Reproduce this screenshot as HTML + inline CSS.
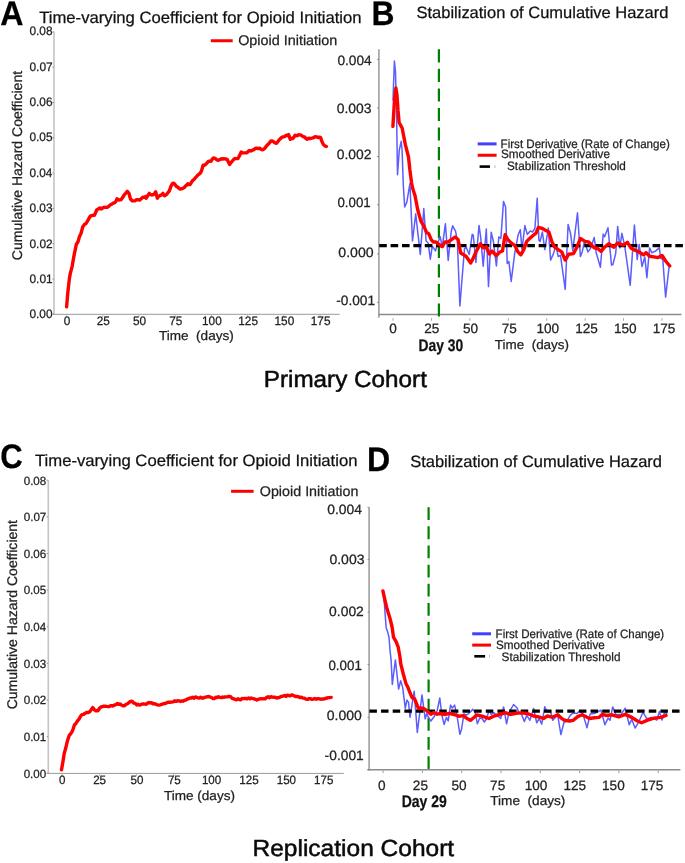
<!DOCTYPE html>
<html><head><meta charset="utf-8"><title>Figure</title>
<style>
html,body{margin:0;padding:0;background:#fff;}
body{width:685px;height:863px;overflow:hidden;}
svg{display:block;will-change:transform;text-rendering:geometricPrecision;font-family:"Liberation Sans", sans-serif;}
</style></head>
<body>
<svg width="685" height="863" viewBox="0 0 685 863">
<rect width="685" height="863" fill="#fff"/>
<text x="0.35" y="25.00" font-size="34" fill="#000" font-weight="bold" textLength="23.25" lengthAdjust="spacingAndGlyphs" stroke="#000" stroke-width="0.25">A</text>
<text x="371.42" y="24.70" font-size="34" fill="#000" font-weight="bold" textLength="22.97" lengthAdjust="spacingAndGlyphs" stroke="#000" stroke-width="0.25">B</text>
<text x="0.28" y="468.40" font-size="34" fill="#000" font-weight="bold" textLength="22.42" lengthAdjust="spacingAndGlyphs" stroke="#000" stroke-width="0.25">C</text>
<text x="367.10" y="470.70" font-size="34" fill="#000" font-weight="bold" textLength="23.20" lengthAdjust="spacingAndGlyphs" stroke="#000" stroke-width="0.25">D</text>
<text x="39.18" y="23.40" font-size="16.4" fill="#111" textLength="322.45" lengthAdjust="spacingAndGlyphs" stroke="#111" stroke-width="0.25">Time-varying Coefficient for Opioid Initiation</text>
<text x="416.50" y="18.05" font-size="16.4" fill="#111" textLength="251.91" lengthAdjust="spacingAndGlyphs" stroke="#111" stroke-width="0.25">Stabilization of Cumulative Hazard</text>
<text x="34.98" y="466.00" font-size="16.4" fill="#111" textLength="322.55" lengthAdjust="spacingAndGlyphs" stroke="#111" stroke-width="0.25">Time-varying Coefficient for Opioid Initiation</text>
<text x="410.20" y="467.10" font-size="16.4" fill="#111" textLength="251.81" lengthAdjust="spacingAndGlyphs" stroke="#111" stroke-width="0.25">Stabilization of Cumulative Hazard</text>
<line x1="54" y1="31.6" x2="54" y2="314.8" stroke="#c4c4c4" stroke-width="1.6"/>
<line x1="53" y1="314.3" x2="339.7" y2="314.3" stroke="#9a9a9a" stroke-width="1"/>
<line x1="52.3" y1="314.3" x2="54" y2="314.3" stroke="#888" stroke-width="0.8"/>
<text x="29.49" y="318.20" font-size="12.3" fill="#222" textLength="23.02" lengthAdjust="spacingAndGlyphs" stroke="#222" stroke-width="0.25">0.00</text>
<line x1="52.3" y1="279.0" x2="54" y2="279.0" stroke="#888" stroke-width="0.8"/>
<text x="29.49" y="282.85" font-size="12.3" fill="#222" textLength="23.15" lengthAdjust="spacingAndGlyphs" stroke="#222" stroke-width="0.25">0.01</text>
<line x1="52.3" y1="243.70000000000002" x2="54" y2="243.70000000000002" stroke="#888" stroke-width="0.8"/>
<text x="29.49" y="247.50" font-size="12.3" fill="#222" textLength="23.16" lengthAdjust="spacingAndGlyphs" stroke="#222" stroke-width="0.25">0.02</text>
<line x1="52.3" y1="208.40000000000003" x2="54" y2="208.40000000000003" stroke="#888" stroke-width="0.8"/>
<text x="29.49" y="212.15" font-size="12.3" fill="#222" textLength="23.08" lengthAdjust="spacingAndGlyphs" stroke="#222" stroke-width="0.25">0.03</text>
<line x1="52.3" y1="173.10000000000002" x2="54" y2="173.10000000000002" stroke="#888" stroke-width="0.8"/>
<text x="29.49" y="176.80" font-size="12.3" fill="#222" textLength="22.90" lengthAdjust="spacingAndGlyphs" stroke="#222" stroke-width="0.25">0.04</text>
<line x1="52.3" y1="137.8" x2="54" y2="137.8" stroke="#888" stroke-width="0.8"/>
<text x="29.49" y="141.45" font-size="12.3" fill="#222" textLength="23.06" lengthAdjust="spacingAndGlyphs" stroke="#222" stroke-width="0.25">0.05</text>
<line x1="52.3" y1="102.50000000000003" x2="54" y2="102.50000000000003" stroke="#888" stroke-width="0.8"/>
<text x="29.49" y="106.10" font-size="12.3" fill="#222" textLength="23.08" lengthAdjust="spacingAndGlyphs" stroke="#222" stroke-width="0.25">0.06</text>
<line x1="52.3" y1="67.20000000000005" x2="54" y2="67.20000000000005" stroke="#888" stroke-width="0.8"/>
<text x="29.49" y="70.75" font-size="12.3" fill="#222" textLength="23.16" lengthAdjust="spacingAndGlyphs" stroke="#222" stroke-width="0.25">0.07</text>
<line x1="52.3" y1="31.900000000000034" x2="54" y2="31.900000000000034" stroke="#888" stroke-width="0.8"/>
<text x="29.49" y="35.40" font-size="12.3" fill="#222" textLength="23.08" lengthAdjust="spacingAndGlyphs" stroke="#222" stroke-width="0.25">0.08</text>
<line x1="66.6" y1="315" x2="66.6" y2="317" stroke="#aaa" stroke-width="0.8"/>
<text x="63.87" y="324.80" font-size="12.3" fill="#222" textLength="6.57" lengthAdjust="spacingAndGlyphs" stroke="#222" stroke-width="0.25">0</text>
<line x1="102.8" y1="315" x2="102.8" y2="317" stroke="#aaa" stroke-width="0.8"/>
<text x="96.77" y="324.80" font-size="12.3" fill="#222" textLength="13.13" lengthAdjust="spacingAndGlyphs" stroke="#222" stroke-width="0.25">25</text>
<line x1="139.0" y1="315" x2="139.0" y2="317" stroke="#aaa" stroke-width="0.8"/>
<text x="133.06" y="324.80" font-size="12.3" fill="#222" textLength="13.13" lengthAdjust="spacingAndGlyphs" stroke="#222" stroke-width="0.25">50</text>
<line x1="175.2" y1="315" x2="175.2" y2="317" stroke="#aaa" stroke-width="0.8"/>
<text x="169.25" y="324.80" font-size="12.3" fill="#222" textLength="13.13" lengthAdjust="spacingAndGlyphs" stroke="#222" stroke-width="0.25">75</text>
<line x1="211.4" y1="315" x2="211.4" y2="317" stroke="#aaa" stroke-width="0.8"/>
<text x="202.04" y="324.80" font-size="12.3" fill="#222" textLength="19.70" lengthAdjust="spacingAndGlyphs" stroke="#222" stroke-width="0.25">100</text>
<line x1="247.6" y1="315" x2="247.6" y2="317" stroke="#aaa" stroke-width="0.8"/>
<text x="238.30" y="324.80" font-size="12.3" fill="#222" textLength="19.70" lengthAdjust="spacingAndGlyphs" stroke="#222" stroke-width="0.25">125</text>
<line x1="283.8" y1="315" x2="283.8" y2="317" stroke="#aaa" stroke-width="0.8"/>
<text x="274.52" y="324.80" font-size="12.3" fill="#222" textLength="19.70" lengthAdjust="spacingAndGlyphs" stroke="#222" stroke-width="0.25">150</text>
<line x1="320.0" y1="315" x2="320.0" y2="317" stroke="#aaa" stroke-width="0.8"/>
<text x="310.78" y="324.80" font-size="12.3" fill="#222" textLength="19.70" lengthAdjust="spacingAndGlyphs" stroke="#222" stroke-width="0.25">175</text>
<text x="158.95" y="340.00" font-size="13" fill="#222" textLength="74.84" lengthAdjust="spacingAndGlyphs" stroke="#222" stroke-width="0.25">Time&#160; (days)</text>
<text x="70.24" y="0.00" font-size="14" fill="#222" textLength="189.31" lengthAdjust="spacingAndGlyphs" stroke="#222" stroke-width="0.25" transform="translate(0,330.4) rotate(-90) translate(0,22.3)">Cumulative Hazard Coefficient</text>
<line x1="210.8" y1="40.75" x2="232.7" y2="40.75" stroke="#ff0000" stroke-width="3"/>
<text x="238.17" y="44.90" font-size="14" fill="#222" textLength="99.11" lengthAdjust="spacingAndGlyphs" stroke="#222" stroke-width="0.25">Opioid Initiation</text>
<polyline points="66.6,306.8 67.8,292.7 69.4,278.6 70.2,273.9 72.2,266.1 73.3,259.5 74.4,253.6 76.4,244.2 78.0,241.8 79.6,236.3 81.1,233.2 82.7,227.0 84.3,224.6 85.8,223.8 87.0,221.9 88.2,219.9 89.3,217.8 90.5,216.0 91.7,215.7 92.9,215.2 94.4,215.2 95.6,212.6 96.8,209.7 98.3,209.0 99.9,207.9 101.5,209.0 102.8,207.9 104.1,207.3 105.4,207.4 107.0,207.4 108.5,206.6 110.0,205.1 111.6,204.3 113.2,203.2 114.8,202.7 115.9,201.4 117.1,198.8 118.7,200.0 119.8,199.8 121.0,199.6 122.6,197.7 124.2,194.9 125.8,193.1 127.3,191.3 128.9,193.3 130.4,198.8 132.0,200.7 133.6,200.9 135.1,200.7 136.3,199.7 137.5,199.6 139.6,200.1 141.2,198.8 142.8,197.1 144.1,197.3 145.3,196.6 146.1,198.2 147.7,195.8 149.3,193.4 150.5,194.5 151.7,195.0 152.9,194.8 154.1,194.2 155.7,191.8 157.3,198.2 158.5,196.4 159.7,195.8 161.3,194.9 162.9,193.4 164.5,195.8 165.7,195.1 166.9,194.2 168.1,192.3 169.3,191.0 171.0,186.1 172.6,183.4 173.8,183.3 175.0,184.5 176.2,186.2 177.4,186.9 178.6,187.9 179.8,189.0 181.4,188.9 183.0,188.2 184.2,187.6 185.4,186.1 186.6,185.2 187.8,183.7 189.0,184.6 190.2,184.5 191.4,182.4 192.6,180.5 194.2,179.3 195.8,177.3 197.4,175.6 199.1,174.1 200.3,173.1 201.5,170.9 203.1,165.3 204.3,165.4 205.5,164.5 207.1,162.8 208.3,161.5 209.5,161.2 211.1,161.2 212.3,159.1 213.5,158.0 215.1,158.4 216.7,159.6 217.9,160.4 219.1,160.0 220.3,159.3 221.5,158.8 222.7,159.0 223.9,158.8 225.6,158.9 227.2,159.6 228.4,162.1 229.6,164.5 231.0,162.6 232.4,161.0 233.6,159.6 234.8,158.5 236.4,158.6 238.0,158.5 239.6,155.4 241.2,152.1 242.6,152.9 243.9,152.9 245.3,152.9 246.6,152.7 248.0,151.8 249.3,150.5 250.9,151.0 252.5,150.2 253.8,149.7 255.2,148.4 256.5,148.1 258.1,148.6 259.7,148.1 261.3,149.5 262.9,149.7 264.5,148.6 266.1,146.5 267.7,144.7 269.4,143.0 271.0,140.9 272.2,140.9 273.4,141.7 275.0,142.9 276.6,143.3 277.8,141.8 279.0,140.1 280.3,138.8 281.7,137.4 283.0,136.9 284.6,136.6 286.2,135.3 287.4,135.5 288.6,134.5 290.2,139.3 291.4,138.4 292.6,138.5 293.8,137.3 295.0,135.3 296.2,135.4 297.4,135.7 298.6,134.8 299.9,134.9 301.1,135.2 302.3,136.1 303.5,136.8 304.7,136.9 305.9,138.6 307.1,139.3 308.7,138.3 310.3,138.5 311.9,138.2 313.5,137.7 315.1,136.7 316.7,136.9 318.0,137.5 319.4,137.2 320.7,137.7 321.9,141.4 323.1,144.1 324.8,145.9 326.4,146.5" fill="none" stroke="#ff0000" stroke-width="3.4" stroke-linejoin="round" stroke-linecap="round"/>
<line x1="48.3" y1="480.2" x2="48.3" y2="773.6" stroke="#c4c4c4" stroke-width="1.6"/>
<line x1="47.3" y1="773.4" x2="343.8" y2="773.4" stroke="#9a9a9a" stroke-width="1"/>
<line x1="46.6" y1="773.3" x2="48.3" y2="773.3" stroke="#888" stroke-width="0.8"/>
<text x="23.70" y="777.55" font-size="11.9" fill="#222" textLength="22.50" lengthAdjust="spacingAndGlyphs" stroke="#222" stroke-width="0.25">0.00</text>
<line x1="46.6" y1="736.66" x2="48.3" y2="736.66" stroke="#888" stroke-width="0.8"/>
<text x="23.70" y="740.92" font-size="11.9" fill="#222" textLength="22.62" lengthAdjust="spacingAndGlyphs" stroke="#222" stroke-width="0.25">0.01</text>
<line x1="46.6" y1="700.02" x2="48.3" y2="700.02" stroke="#888" stroke-width="0.8"/>
<text x="23.70" y="704.30" font-size="11.9" fill="#222" textLength="22.64" lengthAdjust="spacingAndGlyphs" stroke="#222" stroke-width="0.25">0.02</text>
<line x1="46.6" y1="663.38" x2="48.3" y2="663.38" stroke="#888" stroke-width="0.8"/>
<text x="23.70" y="667.67" font-size="11.9" fill="#222" textLength="22.56" lengthAdjust="spacingAndGlyphs" stroke="#222" stroke-width="0.25">0.03</text>
<line x1="46.6" y1="626.74" x2="48.3" y2="626.74" stroke="#888" stroke-width="0.8"/>
<text x="23.70" y="631.05" font-size="11.9" fill="#222" textLength="22.39" lengthAdjust="spacingAndGlyphs" stroke="#222" stroke-width="0.25">0.04</text>
<line x1="46.6" y1="590.0999999999999" x2="48.3" y2="590.0999999999999" stroke="#888" stroke-width="0.8"/>
<text x="23.70" y="594.42" font-size="11.9" fill="#222" textLength="22.54" lengthAdjust="spacingAndGlyphs" stroke="#222" stroke-width="0.25">0.05</text>
<line x1="46.6" y1="553.4599999999999" x2="48.3" y2="553.4599999999999" stroke="#888" stroke-width="0.8"/>
<text x="23.70" y="557.80" font-size="11.9" fill="#222" textLength="22.56" lengthAdjust="spacingAndGlyphs" stroke="#222" stroke-width="0.25">0.06</text>
<line x1="46.6" y1="516.8199999999999" x2="48.3" y2="516.8199999999999" stroke="#888" stroke-width="0.8"/>
<text x="23.70" y="521.17" font-size="11.9" fill="#222" textLength="22.64" lengthAdjust="spacingAndGlyphs" stroke="#222" stroke-width="0.25">0.07</text>
<line x1="46.6" y1="480.17999999999995" x2="48.3" y2="480.17999999999995" stroke="#888" stroke-width="0.8"/>
<text x="23.70" y="484.55" font-size="11.9" fill="#222" textLength="22.56" lengthAdjust="spacingAndGlyphs" stroke="#222" stroke-width="0.25">0.08</text>
<line x1="62.1" y1="774" x2="62.1" y2="776" stroke="#aaa" stroke-width="0.8"/>
<text x="59.02" y="784.40" font-size="12.1" fill="#222" textLength="6.46" lengthAdjust="spacingAndGlyphs" stroke="#222" stroke-width="0.25">0</text>
<line x1="99.36" y1="774" x2="99.36" y2="776" stroke="#aaa" stroke-width="0.8"/>
<text x="93.13" y="784.40" font-size="12.1" fill="#222" textLength="12.92" lengthAdjust="spacingAndGlyphs" stroke="#222" stroke-width="0.25">25</text>
<line x1="136.62" y1="774" x2="136.62" y2="776" stroke="#aaa" stroke-width="0.8"/>
<text x="130.56" y="784.40" font-size="12.1" fill="#222" textLength="12.92" lengthAdjust="spacingAndGlyphs" stroke="#222" stroke-width="0.25">50</text>
<line x1="173.88" y1="774" x2="173.88" y2="776" stroke="#aaa" stroke-width="0.8"/>
<text x="167.91" y="784.40" font-size="12.1" fill="#222" textLength="12.92" lengthAdjust="spacingAndGlyphs" stroke="#222" stroke-width="0.25">75</text>
<line x1="211.14" y1="774" x2="211.14" y2="776" stroke="#aaa" stroke-width="0.8"/>
<text x="201.90" y="784.40" font-size="12.1" fill="#222" textLength="19.38" lengthAdjust="spacingAndGlyphs" stroke="#222" stroke-width="0.25">100</text>
<line x1="248.39999999999998" y1="774" x2="248.39999999999998" y2="776" stroke="#aaa" stroke-width="0.8"/>
<text x="239.31" y="784.40" font-size="12.1" fill="#222" textLength="19.38" lengthAdjust="spacingAndGlyphs" stroke="#222" stroke-width="0.25">125</text>
<line x1="285.66" y1="774" x2="285.66" y2="776" stroke="#aaa" stroke-width="0.8"/>
<text x="276.68" y="784.40" font-size="12.1" fill="#222" textLength="19.38" lengthAdjust="spacingAndGlyphs" stroke="#222" stroke-width="0.25">150</text>
<line x1="322.92" y1="774" x2="322.92" y2="776" stroke="#aaa" stroke-width="0.8"/>
<text x="314.09" y="784.40" font-size="12.1" fill="#222" textLength="19.38" lengthAdjust="spacingAndGlyphs" stroke="#222" stroke-width="0.25">175</text>
<text x="163.95" y="800.00" font-size="13" fill="#222" textLength="71.04" lengthAdjust="spacingAndGlyphs" stroke="#222" stroke-width="0.25">Time (days)</text>
<text x="519.34" y="0.00" font-size="14" fill="#222" textLength="189.41" lengthAdjust="spacingAndGlyphs" stroke="#222" stroke-width="0.25" transform="translate(0,1228.7) rotate(-90) translate(0,16.6)">Cumulative Hazard Coefficient</text>
<line x1="231.1" y1="491.3" x2="253.6" y2="491.3" stroke="#ff0000" stroke-width="3"/>
<text x="259.77" y="496.10" font-size="14" fill="#222" textLength="98.71" lengthAdjust="spacingAndGlyphs" stroke="#222" stroke-width="0.25">Opioid Initiation</text>
<polyline points="61.5,769.9 62.9,761.9 64.2,753.6 65.8,747.8 67.3,741.3 69.3,735.2 70.5,734.0 71.8,732.1 73.1,729.1 74.4,725.0 76.0,723.3 77.5,720.9 79.0,719.2 80.5,716.4 82.0,714.7 83.6,714.3 85.2,713.3 86.7,712.3 88.2,712.6 89.7,711.7 91.2,709.8 92.8,707.6 94.3,709.7 95.9,710.7 97.9,710.7 99.5,708.3 101.0,707.0 102.4,706.7 103.7,706.1 105.1,706.2 106.5,706.4 107.8,706.6 109.2,706.6 110.5,705.8 111.9,705.8 113.2,706.0 114.6,704.9 115.9,704.9 117.3,703.5 118.7,704.3 120.0,704.0 121.4,704.9 123.0,705.7 124.5,705.8 125.9,704.4 127.2,704.0 128.6,702.9 129.8,701.9 131.1,701.3 132.3,701.5 133.8,703.1 135.2,703.4 136.7,704.9 138.0,704.3 139.3,705.1 140.6,704.8 141.9,704.1 143.4,703.8 144.9,704.1 146.3,704.2 147.6,703.1 149.0,702.5 150.3,703.0 151.6,702.6 152.8,703.8 154.1,703.5 155.7,704.1 157.2,704.8 158.8,705.1 160.3,704.9 161.6,704.3 162.9,704.0 164.1,703.4 165.4,703.5 166.9,702.7 168.4,702.2 170.0,702.2 171.5,702.1 173.0,701.9 174.6,700.8 176.1,701.4 177.6,700.8 179.1,700.9 180.7,701.5 182.0,700.9 183.2,701.2 184.5,700.3 185.8,700.0 187.2,699.1 188.5,698.6 189.9,698.0 191.2,698.1 192.6,697.2 193.9,698.3 195.3,696.9 196.6,697.4 197.9,697.9 199.3,698.1 200.7,697.2 202.0,698.0 203.4,698.0 204.8,697.2 206.1,697.1 207.5,696.7 208.9,696.5 210.2,697.0 211.6,697.6 213.0,698.5 214.4,698.6 215.8,697.2 217.1,697.5 218.5,696.7 219.8,697.4 221.2,697.6 222.6,697.0 223.9,697.4 225.2,696.9 226.4,696.9 227.7,696.9 229.0,696.3 230.6,696.7 232.2,698.4 233.8,698.9 235.2,699.5 236.6,699.7 237.9,698.8 239.3,699.6 240.7,699.9 242.0,698.5 243.3,698.6 244.7,698.5 246.0,698.5 247.3,698.8 248.7,698.0 250.0,698.7 251.3,698.0 252.7,698.6 254.1,698.8 255.4,699.3 256.8,700.0 258.2,699.3 259.6,698.9 260.9,698.7 262.3,698.9 263.8,698.8 265.2,698.8 266.6,697.4 268.1,696.8 269.6,697.7 271.0,696.7 272.4,697.1 273.8,697.2 275.1,697.3 276.5,698.0 277.9,697.7 279.2,697.6 280.6,696.7 282.0,696.3 283.4,696.1 284.7,695.4 286.1,696.4 287.4,695.1 288.8,695.6 290.2,695.9 291.5,694.9 292.9,695.2 294.3,695.9 295.6,696.5 297.0,696.5 298.4,696.7 299.9,697.6 301.4,697.1 303.0,698.1 304.5,698.2 306.0,699.1 307.5,699.4 308.9,698.6 310.4,698.7 311.9,699.3 313.3,699.1 314.8,698.5 316.3,699.2 317.7,698.6 319.2,698.8 320.7,699.2 322.1,699.0 323.6,699.1 325.1,698.5 326.6,698.3 328.2,697.6 329.7,697.6 331.2,697.4" fill="none" stroke="#ff0000" stroke-width="3.4" stroke-linejoin="round" stroke-linecap="round"/>
<line x1="378.9" y1="49.3" x2="378.9" y2="317.7" stroke="#999" stroke-width="1.5"/>
<line x1="378.2" y1="314.5" x2="681.5" y2="314.5" stroke="#8c8c8c" stroke-width="1.5"/>
<line x1="377" y1="59.4" x2="378.9" y2="59.4" stroke="#777" stroke-width="0.8"/>
<text x="337.41" y="64.90" font-size="13.6" fill="#222" textLength="34.34" lengthAdjust="spacingAndGlyphs" stroke="#222" stroke-width="0.25">0.004</text>
<line x1="377" y1="108" x2="378.9" y2="108" stroke="#777" stroke-width="0.8"/>
<text x="336.71" y="112.50" font-size="13.6" fill="#222" textLength="34.86" lengthAdjust="spacingAndGlyphs" stroke="#222" stroke-width="0.25">0.003</text>
<line x1="377" y1="156.5" x2="378.9" y2="156.5" stroke="#777" stroke-width="0.8"/>
<text x="336.71" y="158.90" font-size="13.6" fill="#222" textLength="34.74" lengthAdjust="spacingAndGlyphs" stroke="#222" stroke-width="0.25">0.002</text>
<line x1="377" y1="204.8" x2="378.9" y2="204.8" stroke="#777" stroke-width="0.8"/>
<text x="337.43" y="207.10" font-size="13.6" fill="#222" textLength="33.27" lengthAdjust="spacingAndGlyphs" stroke="#222" stroke-width="0.25">0.001</text>
<line x1="377" y1="253.9" x2="378.9" y2="253.9" stroke="#777" stroke-width="0.8"/>
<text x="338.30" y="257.20" font-size="13.6" fill="#222" textLength="35.41" lengthAdjust="spacingAndGlyphs" stroke="#222" stroke-width="0.25">0.000</text>
<line x1="377" y1="302.3" x2="378.9" y2="302.3" stroke="#777" stroke-width="0.8"/>
<text x="336.24" y="304.70" font-size="13.6" fill="#222" textLength="38.88" lengthAdjust="spacingAndGlyphs" stroke="#222" stroke-width="0.25">-0.001</text>
<line x1="393.1" y1="318" x2="393.1" y2="320.8" stroke="#aaa" stroke-width="1"/>
<text x="389.32" y="332.70" font-size="13.6" fill="#222" textLength="7.56" lengthAdjust="spacingAndGlyphs" stroke="#222" stroke-width="0.25">0</text>
<line x1="431.51" y1="318" x2="431.51" y2="320.8" stroke="#aaa" stroke-width="1"/>
<text x="424.21" y="332.70" font-size="13.6" fill="#222" textLength="15.13" lengthAdjust="spacingAndGlyphs" stroke="#222" stroke-width="0.25">25</text>
<line x1="469.92" y1="318" x2="469.92" y2="320.8" stroke="#aaa" stroke-width="1"/>
<text x="462.99" y="332.70" font-size="13.6" fill="#222" textLength="15.13" lengthAdjust="spacingAndGlyphs" stroke="#222" stroke-width="0.25">50</text>
<line x1="508.33000000000004" y1="318" x2="508.33000000000004" y2="320.8" stroke="#aaa" stroke-width="1"/>
<text x="501.66" y="332.70" font-size="13.6" fill="#222" textLength="15.13" lengthAdjust="spacingAndGlyphs" stroke="#222" stroke-width="0.25">75</text>
<line x1="546.74" y1="318" x2="546.74" y2="320.8" stroke="#aaa" stroke-width="1"/>
<text x="536.42" y="332.70" font-size="13.6" fill="#222" textLength="22.69" lengthAdjust="spacingAndGlyphs" stroke="#222" stroke-width="0.25">100</text>
<line x1="585.15" y1="318" x2="585.15" y2="320.8" stroke="#aaa" stroke-width="1"/>
<text x="575.17" y="332.70" font-size="13.6" fill="#222" textLength="22.69" lengthAdjust="spacingAndGlyphs" stroke="#222" stroke-width="0.25">125</text>
<line x1="623.56" y1="318" x2="623.56" y2="320.8" stroke="#aaa" stroke-width="1"/>
<text x="613.88" y="332.70" font-size="13.6" fill="#222" textLength="22.69" lengthAdjust="spacingAndGlyphs" stroke="#222" stroke-width="0.25">150</text>
<line x1="661.97" y1="318" x2="661.97" y2="320.8" stroke="#aaa" stroke-width="1"/>
<text x="652.63" y="332.70" font-size="13.6" fill="#222" textLength="22.69" lengthAdjust="spacingAndGlyphs" stroke="#222" stroke-width="0.25">175</text>
<text x="494.85" y="349.00" font-size="13" fill="#222" textLength="74.13" lengthAdjust="spacingAndGlyphs" stroke="#222" stroke-width="0.25">Time&#160; (days)</text>
<text x="418.52" y="350.90" font-size="16.8" fill="#111" font-weight="bold" textLength="44.59" lengthAdjust="spacingAndGlyphs" stroke="#111" stroke-width="0.25">Day 30</text>
<line x1="438.9" y1="49.3" x2="438.9" y2="317.4" stroke="#008000" stroke-width="2.2" stroke-dasharray="13.1 6.45"/>
<polyline points="393.0,100.0 394.4,61.0 395.5,72.0 396.5,110.0 397.5,174.7 399.3,150.0 401.2,141.3 402.1,150.0 403.3,185.0 404.7,207.0 406.8,202.3 409.9,183.6 412.5,241.0 415.7,213.8 420.3,254.5 423.8,208.6 426.1,241.0 428.2,243.0 430.3,259.2 432.3,246.2 435.5,250.9 437.0,245.1 440.2,236.8 442.3,247.2 445.4,223.7 448.2,260.4 451.1,232.3 452.7,225.8 455.5,231.1 457.3,240.0 459.9,305.9 462.2,276.7 464.5,248.7 466.3,247.5 469.2,254.5 472.2,234.3 473.3,235.3 475.9,262.4 479.0,225.4 480.6,236.3 483.2,266.2 486.3,229.0 488.5,286.6 491.2,232.2 493.4,241.5 496.4,266.0 498.8,236.9 500.9,238.4 503.5,201.4 505.6,207.1 507.2,263.5 508.9,261.5 511.2,281.4 514.7,253.4 518.2,234.7 520.3,229.7 522.0,249.6 524.9,225.6 527.3,234.4 530.2,230.9 532.5,232.0 534.9,228.5 537.2,198.2 538.9,240.2 540.1,241.4 542.4,232.0 544.8,249.6 548.3,228.0 550.6,260.1 553.5,253.6 555.9,244.9 558.2,256.6 560.5,255.4 565.2,289.3 568.1,224.5 570.5,233.2 572.8,250.7 577.5,212.8 580.4,256.6 582.2,251.9 584.5,241.4 588.0,251.9 589.7,249.6 590.5,248.5 594.2,237.4 596.2,252.7 600.4,267.3 603.2,234.0 604.6,236.8 608.0,227.7 611.5,265.2 612.9,264.5 615.7,253.4 617.7,226.4 619.8,247.9 621.9,233.3 624.7,245.8 630.2,285.3 634.4,225.0 637.2,259.6 639.2,244.4 642.0,266.6 644.8,256.9 646.9,277.7 649.6,247.9 651.7,252.7 655.2,251.3 659.3,247.9 660.7,258.3 662.8,259.6 665.6,297.1 669.1,266.6" fill="none" stroke="#5c5cff" stroke-width="1.5" stroke-linejoin="round" stroke-linecap="round"/>
<line x1="379.2" y1="245.6" x2="683" y2="245.6" stroke="#000" stroke-width="3.1" stroke-dasharray="7.6 3.79"/>
<polyline points="392.9,126.4 394.5,100.0 395.9,88.0 397.0,95.0 398.0,110.2 399.1,122.5 400.5,125.0 402.2,128.3 405.3,144.4 408.5,157.0 409.9,170.0 411.6,183.0 412.5,187.7 415.1,196.1 417.7,209.7 420.9,221.1 424.0,226.3 426.6,232.6 428.7,233.7 431.3,239.9 433.4,242.0 436.0,242.0 438.6,244.1 442.3,246.7 444.9,242.0 448.0,242.0 451.1,239.9 455.0,237.0 458.1,239.5 460.7,253.0 463.3,254.6 466.0,256.2 470.7,263.0 472.7,259.3 475.9,252.0 480.6,243.7 483.2,247.8 486.3,246.8 489.4,254.1 492.0,251.0 496.2,255.7 499.9,252.0 502.5,251.0 505.1,234.8 508.2,240.0 511.4,243.1 515.0,245.7 517.9,251.9 520.8,254.8 523.8,249.6 526.7,241.4 530.2,237.9 533.7,235.0 536.0,233.2 538.4,227.4 542.4,228.5 545.4,230.3 548.9,232.0 551.8,241.4 554.7,247.2 558.2,249.6 561.7,251.9 565.2,260.1 568.7,254.2 573.4,253.6 576.9,247.2 580.4,238.5 585.1,241.4 588.6,242.0 592.1,245.5 594.2,247.9 597.6,248.5 601.1,251.3 604.6,247.2 608.7,243.7 613.6,247.2 617.7,243.0 623.3,245.1 627.4,242.3 630.9,247.9 634.4,249.9 639.2,252.0 643.4,254.8 646.2,252.7 649.6,256.2 653.8,256.9 658.0,257.6 662.1,255.5 665.6,261.0 669.7,265.9" fill="none" stroke="#ff0000" stroke-width="3.4" stroke-linejoin="round" stroke-linecap="round"/>
<line x1="477.7" y1="143.9" x2="496.6" y2="143.9" stroke="#4040ff" stroke-width="3"/>
<line x1="477.7" y1="155.25" x2="496.6" y2="155.25" stroke="#ff0000" stroke-width="3"/>
<line x1="479.6" y1="166.6" x2="490" y2="166.6" stroke="#000" stroke-width="2.6"/>
<line x1="494.4" y1="166.6" x2="495.4" y2="166.6" stroke="#bbb" stroke-width="2.6"/>
<text x="500.60" y="147.50" font-size="12.2" fill="#222" textLength="169.17" lengthAdjust="spacingAndGlyphs" stroke="#222" stroke-width="0.25">First Derivative (Rate of Change)</text>
<text x="501.02" y="158.30" font-size="12.2" fill="#222" textLength="108.95" lengthAdjust="spacingAndGlyphs" stroke="#222" stroke-width="0.25">Smoothed Derivative</text>
<text x="507.02" y="170.30" font-size="12.2" fill="#222" textLength="118.89" lengthAdjust="spacingAndGlyphs" stroke="#222" stroke-width="0.25">Stabilization Threshold</text>
<line x1="369.1" y1="507.3" x2="369.1" y2="770.5" stroke="#999" stroke-width="1.5"/>
<line x1="367.4" y1="769.7" x2="680.4" y2="769.7" stroke="#8c8c8c" stroke-width="1.5"/>
<line x1="367.5" y1="507.4" x2="369.1" y2="507.4" stroke="#777" stroke-width="0.8"/>
<text x="327.21" y="513.80" font-size="13.6" fill="#222" textLength="34.75" lengthAdjust="spacingAndGlyphs" stroke="#222" stroke-width="0.25">0.004</text>
<line x1="367.5" y1="559.6" x2="369.1" y2="559.6" stroke="#777" stroke-width="0.8"/>
<text x="329.40" y="564.10" font-size="13.6" fill="#222" textLength="35.17" lengthAdjust="spacingAndGlyphs" stroke="#222" stroke-width="0.25">0.003</text>
<line x1="367.5" y1="612.2" x2="369.1" y2="612.2" stroke="#777" stroke-width="0.8"/>
<text x="329.11" y="616.10" font-size="13.6" fill="#222" textLength="34.74" lengthAdjust="spacingAndGlyphs" stroke="#222" stroke-width="0.25">0.002</text>
<line x1="367.5" y1="664.5" x2="369.1" y2="664.5" stroke="#777" stroke-width="0.8"/>
<text x="328.43" y="669.60" font-size="13.6" fill="#222" textLength="33.48" lengthAdjust="spacingAndGlyphs" stroke="#222" stroke-width="0.25">0.001</text>
<line x1="367.5" y1="717.4" x2="369.1" y2="717.4" stroke="#777" stroke-width="0.8"/>
<text x="326.70" y="719.80" font-size="13.6" fill="#222" textLength="35.10" lengthAdjust="spacingAndGlyphs" stroke="#222" stroke-width="0.25">0.000</text>
<line x1="367.5" y1="769.5" x2="369.1" y2="769.5" stroke="#777" stroke-width="0.8"/>
<text x="324.64" y="759.60" font-size="13.6" fill="#222" textLength="39.09" lengthAdjust="spacingAndGlyphs" stroke="#222" stroke-width="0.25">-0.001</text>
<line x1="383.1" y1="770.5" x2="383.1" y2="773" stroke="#999" stroke-width="1"/>
<text x="378.02" y="789.70" font-size="13.6" fill="#222" textLength="7.56" lengthAdjust="spacingAndGlyphs" stroke="#222" stroke-width="0.25">0</text>
<line x1="422.40000000000003" y1="770.5" x2="422.40000000000003" y2="773" stroke="#999" stroke-width="1"/>
<text x="412.82" y="789.70" font-size="13.6" fill="#222" textLength="15.13" lengthAdjust="spacingAndGlyphs" stroke="#222" stroke-width="0.25">25</text>
<line x1="461.70000000000005" y1="770.5" x2="461.70000000000005" y2="773" stroke="#999" stroke-width="1"/>
<text x="451.51" y="789.70" font-size="13.6" fill="#222" textLength="15.13" lengthAdjust="spacingAndGlyphs" stroke="#222" stroke-width="0.25">50</text>
<line x1="501.0" y1="770.5" x2="501.0" y2="773" stroke="#999" stroke-width="1"/>
<text x="490.09" y="789.70" font-size="13.6" fill="#222" textLength="15.13" lengthAdjust="spacingAndGlyphs" stroke="#222" stroke-width="0.25">75</text>
<line x1="540.3" y1="770.5" x2="540.3" y2="773" stroke="#999" stroke-width="1"/>
<text x="524.76" y="789.70" font-size="13.6" fill="#222" textLength="22.69" lengthAdjust="spacingAndGlyphs" stroke="#222" stroke-width="0.25">100</text>
<line x1="579.6" y1="770.5" x2="579.6" y2="773" stroke="#999" stroke-width="1"/>
<text x="563.42" y="789.70" font-size="13.6" fill="#222" textLength="22.69" lengthAdjust="spacingAndGlyphs" stroke="#222" stroke-width="0.25">125</text>
<line x1="618.9" y1="770.5" x2="618.9" y2="773" stroke="#999" stroke-width="1"/>
<text x="602.04" y="789.70" font-size="13.6" fill="#222" textLength="22.69" lengthAdjust="spacingAndGlyphs" stroke="#222" stroke-width="0.25">150</text>
<line x1="658.2" y1="770.5" x2="658.2" y2="773" stroke="#999" stroke-width="1"/>
<text x="640.70" y="789.70" font-size="13.6" fill="#222" textLength="22.69" lengthAdjust="spacingAndGlyphs" stroke="#222" stroke-width="0.25">175</text>
<text x="490.25" y="805.10" font-size="13" fill="#222" textLength="75.14" lengthAdjust="spacingAndGlyphs" stroke="#222" stroke-width="0.25">Time&#160; (days)</text>
<text x="401.71" y="806.90" font-size="16.8" fill="#111" font-weight="bold" textLength="45.16" lengthAdjust="spacingAndGlyphs" stroke="#111" stroke-width="0.25">Day 29</text>
<line x1="428.6" y1="507.2" x2="428.6" y2="772" stroke="#008000" stroke-width="2.2" stroke-dasharray="12.8 6.35"/>
<polyline points="383.0,592.0 384.5,604.7 385.3,616.1 386.1,627.5 387.7,632.1 389.0,637.2 390.2,652.0 391.2,661.1 392.3,684.4 395.4,659.9 398.6,689.1 400.7,680.8 402.7,687.6 405.3,708.4 406.9,700.1 408.5,702.2 410.0,717.3 414.2,691.2 417.3,732.4 422.0,694.9 425.2,718.9 426.7,713.7 428.8,717.8 430.9,721.0 434.0,716.8 437.2,710.5 439.8,698.0 441.8,715.0 444.1,724.4 446.4,717.4 448.2,720.9 450.5,705.1 452.3,708.0 454.6,705.1 456.9,715.0 459.9,734.3 461.6,729.0 463.9,713.9 466.9,715.0 470.9,711.5 472.7,709.2 475.0,712.1 477.4,723.8 479.7,718.0 482.0,718.5 484.4,722.0 486.7,718.5 489.0,710.4 491.4,714.5 493.7,712.7 500.7,718.5 503.6,706.9 506.6,723.8 508.9,712.7 513.6,704.5 517.1,708.0 518.7,712.3 521.2,713.5 524.3,721.6 526.8,715.4 529.9,720.3 533.6,708.5 536.7,722.8 539.2,718.5 541.7,724.1 544.8,706.7 547.3,712.3 550.4,711.0 552.8,720.3 556.0,716.6 557.8,716.0 560.9,734.6 564.0,722.2 567.1,721.0 570.2,715.4 573.3,712.9 577.0,713.5 579.5,711.0 582.6,712.9 587.0,727.8 590.1,714.1 594.4,713.5 600.9,710.2 604.9,724.7 608.1,718.1 610.1,720.1 612.7,706.9 616.0,714.8 621.3,714.2 625.2,708.2 629.2,724.7 631.8,719.4 635.1,728.0 638.4,722.7 643.0,712.2 646.9,718.8 651.5,717.4 656.8,720.1 659.4,711.5 662.0,720.1 664.6,712.2 666.6,713.5" fill="none" stroke="#5c5cff" stroke-width="1.5" stroke-linejoin="round" stroke-linecap="round"/>
<line x1="369.4" y1="711.1" x2="679.7" y2="711.1" stroke="#000" stroke-width="3.1" stroke-dasharray="7.5 4.14"/>
<polyline points="382.9,590.9 384.9,599.9 387.0,608.8 389.8,617.7 392.2,627.5 393.5,637.2 396.3,642.1 398.2,647.2 399.9,656.5 400.7,663.6 403.3,674.0 405.9,683.4 408.0,687.6 410.0,692.8 412.1,697.5 414.7,699.0 416.3,703.2 418.4,708.4 421.5,707.9 424.7,709.0 427.8,711.6 430.9,714.2 434.0,712.6 437.2,714.2 440.3,713.5 444.7,714.5 449.3,713.3 454.0,714.5 458.7,716.2 463.4,715.6 466.9,718.5 470.4,720.3 473.3,718.0 476.8,715.0 482.0,716.2 489.0,718.5 493.7,716.2 499.6,714.5 505.4,712.7 510.1,714.5 515.9,713.3 521.2,712.9 527.4,713.5 533.6,716.0 539.8,717.2 543.5,718.5 547.3,716.0 552.2,717.2 557.8,714.7 560.9,717.8 564.6,720.3 569.6,721.0 573.3,720.3 577.7,716.6 582.0,714.7 585.7,716.6 589.4,718.5 594.4,717.8 598.9,717.4 602.2,714.4 606.8,715.5 612.1,714.8 618.7,716.8 625.2,714.4 631.8,717.4 637.0,720.7 641.6,722.7 647.6,720.1 654.1,718.1 660.7,717.4 666.0,715.5" fill="none" stroke="#ff0000" stroke-width="3.4" stroke-linejoin="round" stroke-linecap="round"/>
<line x1="472.2" y1="633.8" x2="491" y2="633.8" stroke="#4040ff" stroke-width="3"/>
<line x1="472.2" y1="645.1" x2="491" y2="645.1" stroke="#ff0000" stroke-width="3"/>
<line x1="474.3" y1="656.3" x2="485.1" y2="656.3" stroke="#000" stroke-width="2.6"/>
<line x1="489" y1="656.3" x2="490" y2="656.3" stroke="#bbb" stroke-width="2.6"/>
<text x="495.60" y="637.50" font-size="12.2" fill="#222" textLength="168.56" lengthAdjust="spacingAndGlyphs" stroke="#222" stroke-width="0.25">First Derivative (Rate of Change)</text>
<text x="496.02" y="648.60" font-size="12.2" fill="#222" textLength="108.75" lengthAdjust="spacingAndGlyphs" stroke="#222" stroke-width="0.25">Smoothed Derivative</text>
<text x="501.62" y="660.70" font-size="12.2" fill="#222" textLength="118.89" lengthAdjust="spacingAndGlyphs" stroke="#222" stroke-width="0.25">Stabilization Threshold</text>
<text x="263.76" y="386.50" font-size="23.4" fill="#0a0a0a" textLength="163.17" lengthAdjust="spacingAndGlyphs" stroke="#0a0a0a" stroke-width="0.5">Primary Cohort</text>
<text x="252.54" y="856.30" font-size="23.3" fill="#0a0a0a" textLength="201.59" lengthAdjust="spacingAndGlyphs" stroke="#0a0a0a" stroke-width="0.5">Replication Cohort</text>
</svg>
</body></html>
